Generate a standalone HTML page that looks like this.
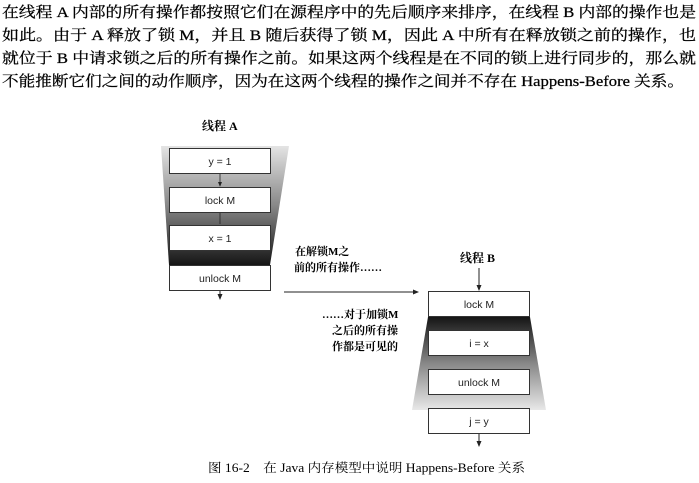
<!DOCTYPE html>
<html><head><meta charset="utf-8"><style>
body{margin:0;background:#fff;}
svg{display:block;}
text{font-family:"Liberation Serif","Noto Serif CJK SC",serif;fill:#000;}
.b{font-family:"Liberation Sans","Noto Sans CJK SC",sans-serif;font-size:10.5px;fill:#222;}
</style></head><body>
<svg width="699" height="483" viewBox="0 0 699 483" xmlns="http://www.w3.org/2000/svg">
<defs>
<linearGradient id="ga" x1="0" y1="0" x2="0" y2="1">
<stop offset="0" stop-color="#e4e4e4"/><stop offset="0.5" stop-color="#888"/><stop offset="1" stop-color="#151515"/>
</linearGradient>
<linearGradient id="gb" x1="0" y1="0" x2="0" y2="1">
<stop offset="0" stop-color="#151515"/><stop offset="0.5" stop-color="#888"/><stop offset="1" stop-color="#e8e8e8"/>
</linearGradient>
<marker id="ar" markerWidth="6" markerHeight="6" refX="5" refY="3" orient="auto"><path d="M0,0.5 L6,3 L0,5.5 z" fill="#222"/></marker>
</defs>
<g font-size="15" stroke="#000" stroke-width="0.25">
<text x="2" y="17" textLength="694" lengthAdjust="spacingAndGlyphs">在线程 A 内部的所有操作都按照它们在源程序中的先后顺序来排序，在线程 B 内部的操作也是</text>
<text x="2" y="40" textLength="694" lengthAdjust="spacingAndGlyphs">如此。由于 A 释放了锁 M，并且 B 随后获得了锁 M，因此 A 中所有在释放锁之前的操作，也</text>
<text x="2" y="63" textLength="694" lengthAdjust="spacingAndGlyphs">就位于 B 中请求锁之后的所有操作之前。如果这两个线程是在不同的锁上进行同步的，那么就</text>
<text x="2" y="86" textLength="682" lengthAdjust="spacingAndGlyphs">不能推断它们之间的动作顺序，因为在这两个线程的操作之间并不存在 Happens-Before 关系。</text>
</g>
<text x="202" y="130" font-size="12" font-weight="bold">线程 A</text>
<polygon points="161,146 289,146 270,265 169,265" fill="url(#ga)"/>
<g fill="#fff" stroke="#333" stroke-width="1">
<rect x="169.5" y="148.5" width="101" height="25"/>
<rect x="169.5" y="187.5" width="101" height="25"/>
<rect x="169.5" y="225.5" width="101" height="25"/>
<rect x="169.5" y="265.5" width="101" height="25"/>
</g>
<g stroke="#222" stroke-width="0.8">
<line x1="220" y1="174" x2="220" y2="186" marker-end="url(#ar)"/>
<line x1="220" y1="213" x2="220" y2="224"/>
<line x1="479" y1="356" x2="479" y2="368" marker-end="url(#ar)"/>
<line x1="479" y1="395" x2="479" y2="407" marker-end="url(#ar)"/>
</g>
<text class="b" x="220" y="165" text-anchor="middle">y = 1</text>
<text class="b" x="220" y="204" text-anchor="middle">lock M</text>
<text class="b" x="220" y="242" text-anchor="middle">x = 1</text>
<text class="b" x="220" y="282" text-anchor="middle">unlock M</text>
<line x1="220" y1="291" x2="220" y2="299" stroke="#222" marker-end="url(#ar)"/>
<line x1="284" y1="292" x2="418" y2="292" stroke="#222" marker-end="url(#ar)"/>
<text x="295" y="255" font-size="11" font-weight="bold">在解锁M之</text>
<text x="294" y="271" font-size="11" font-weight="bold">前的所有操作……</text>
<text x="322" y="318" font-size="11" font-weight="bold">……对于加锁M</text>
<text x="332" y="334" font-size="11" font-weight="bold">之后的所有操</text>
<text x="332" y="350" font-size="11" font-weight="bold">作都是可见的</text>
<text x="460" y="262" font-size="12" font-weight="bold">线程 B</text>
<line x1="479" y1="268" x2="479" y2="290" stroke="#222" marker-end="url(#ar)"/>
<polygon points="428,317 530,317 546,410 412,410" fill="url(#gb)"/>
<g fill="#fff" stroke="#333" stroke-width="1">
<rect x="428.5" y="291.5" width="101" height="25"/>
<rect x="428.5" y="330.5" width="101" height="25"/>
<rect x="428.5" y="369.5" width="101" height="25"/>
<rect x="428.5" y="408.5" width="101" height="25"/>
</g>
<text class="b" x="479" y="308" text-anchor="middle">lock M</text>
<text class="b" x="479" y="347" text-anchor="middle">i = x</text>
<text class="b" x="479" y="386" text-anchor="middle">unlock M</text>
<text class="b" x="479" y="425" text-anchor="middle">j = y</text>
<line x1="479" y1="434" x2="479" y2="446" stroke="#222" marker-end="url(#ar)"/>
<text x="208" y="472" font-size="12.5" textLength="317" lengthAdjust="spacingAndGlyphs">图 16-2　在 Java 内存模型中说明 Happens-Before 关系</text>
</svg>
</body></html>
